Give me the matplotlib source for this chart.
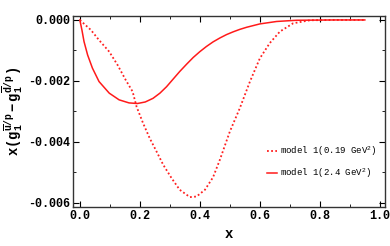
import matplotlib
matplotlib.use("Agg")
import matplotlib.pyplot as plt
from matplotlib.ticker import MultipleLocator, FuncFormatter

# model 1 at Q^2 = 0.19 GeV^2 (dotted)
x_lo = [0.0, 0.037, 0.064, 0.098, 0.126, 0.153, 0.176, 0.189, 0.211, 0.233, 0.256,
        0.278, 0.306, 0.333, 0.367, 0.389, 0.417, 0.444, 0.467, 0.5, 0.533, 0.567,
        0.6, 0.633, 0.667, 0.711, 0.767, 0.85, 0.95]
y_lo = [0.0, -0.00033, -0.00066, -0.00104, -0.00148, -0.00197, -0.00235, -0.00284,
        -0.00339, -0.00388, -0.00432, -0.00475, -0.00519, -0.00557, -0.00581, -0.00579,
        -0.00557, -0.00516, -0.00458, -0.00366, -0.0029, -0.00202, -0.00126, -0.00076,
        -0.00038, -0.00011, -0.00001, 0.0, 0.0]

# model 1 at Q^2 = 2.4 GeV^2 (solid)
x_hi = [0.0, 0.007, 0.014, 0.026, 0.042, 0.064, 0.098, 0.131, 0.164, 0.192, 0.218,
        0.244, 0.267, 0.289, 0.311, 0.333, 0.356, 0.378, 0.4, 0.422, 0.444, 0.467,
        0.489, 0.511, 0.533, 0.556, 0.6, 0.656, 0.722, 0.85, 0.95]
y_hi = [0.0, -0.00033, -0.00071, -0.00115, -0.00158, -0.00202, -0.0024, -0.00262,
        -0.00272, -0.00274, -0.00269, -0.00257, -0.0024, -0.00219, -0.00194, -0.00169,
        -0.00145, -0.00123, -0.00104, -0.00087, -0.00072, -0.00059, -0.00048, -0.00039,
        -0.00031, -0.00024, -0.00013, -0.00005, -0.00001, 0.0, 0.0]

labels = ["model 1(0.19 GeV$^2$)", "model 1(2.4 GeV$^2$)"]

plt.rcParams["font.family"] = ["Liberation Mono", "DejaVu Sans"]
plt.rcParams["mathtext.fontset"] = "custom"
plt.rcParams["mathtext.rm"] = "Liberation Mono"
plt.rcParams["mathtext.it"] = "Liberation Mono"
plt.rcParams["mathtext.bf"] = "Liberation Mono:bold"

fig = plt.figure(figsize=(3.9, 2.46), dpi=100)
ax = fig.add_axes([0.187, 0.159, 0.8, 0.776])

ax.plot(x_lo, y_lo, color="#ff2020", linestyle=(0, (1, 1.3)), linewidth=1.3, label=labels[0])
ax.plot(x_hi, y_hi, color="#ff1a1a", linewidth=1.1, label=labels[1])

ax.set_xlim(-0.023, 1.017)
ax.set_ylim(-0.00613, 0.00013)
ax.xaxis.set_major_locator(MultipleLocator(0.2))
ax.xaxis.set_minor_locator(MultipleLocator(0.1))
ax.yaxis.set_major_locator(MultipleLocator(0.002))
ax.yaxis.set_minor_locator(MultipleLocator(0.001))
ax.xaxis.set_major_formatter(FuncFormatter(lambda v, p: f"{v:.1f}"))
ax.yaxis.set_major_formatter(FuncFormatter(lambda v, p: f"{v:.3f}"))
ax.tick_params(which="both", direction="in", top=True, right=True, labelsize=8.5, pad=2)
ax.tick_params(which="major", length=4, width=0.8)
ax.tick_params(which="minor", length=2, width=0.6)
for lab in ax.get_xticklabels() + ax.get_yticklabels():
    lab.set_fontweight("bold")
for s in ax.spines.values():
    s.set_linewidth(1.0)
    s.set_color("#333333")

ax.set_xlabel("x", fontsize=10, fontweight="bold", labelpad=4)
ax.set_ylabel(r"$\mathbf{x(g_1^{\overline{u}/p}-g_1^{\overline{d}/p})}$", fontsize=10, labelpad=2)

ax.legend(loc="lower right", bbox_to_anchor=(1.0, 0.1), frameon=False, fontsize=6.5,
          handlelength=1.1, handletextpad=0.4, labelspacing=0.9)

plt.savefig("out.png", dpi=100)
plt.close()
